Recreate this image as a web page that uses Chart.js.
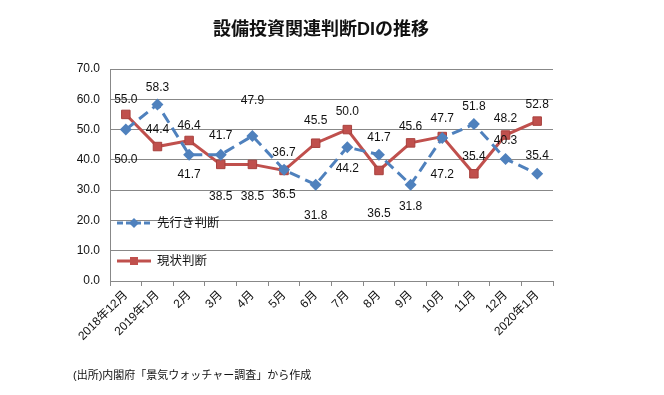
<!DOCTYPE html>
<html lang="ja">
<head>
<meta charset="UTF-8">
<title>設備投資関連判断DIの推移</title>
<script src="https://cdn.jsdelivr.net/npm/chart.js"></script>
<style>
  body { margin: 0; background: #fff; }
  #wrap { width: 664px; height: 395px; position: relative; }
</style>
</head>
<body>
<div id="wrap"><canvas id="c"></canvas></div>
<script>
const months = ['2018年12月', '2019年1月', '2月', '3月', '4月', '5月', '6月', '7月', '8月', '9月', '10月', '11月', '12月', '2020年1月'];
const outlook = [50.0, 58.3, 41.7, 41.7, 47.9, 36.7, 31.8, 44.2, 41.7, 31.8, 47.2, 51.8, 40.3, 35.4];
const current = [55.0, 44.4, 46.4, 38.5, 38.5, 36.5, 45.5, 50.0, 36.5, 45.6, 47.7, 35.4, 48.2, 52.8];
const yTicks = [0, 10, 20, 30, 40, 50, 60, 70];

// vertical label offsets in px (negative = above the point)
const outlookLabelDy = [30, -17, 20, -19, -35, -17, 31, 22, -17, 22, 37, -17, -18, -18];
const currentLabelDy = [-15, -17, -15, 32, 32, 24, -23, -18, 43, -16, -18, -17, -16, -16];

const FONT = '"Liberation Sans", "Noto Sans CJK JP", sans-serif';
const BLUE = '#4F81BD';
const RED = '#C0504D';

const extras = {
  id: 'extras',
  afterDatasetsDraw(chart) {
    const ctx = chart.ctx;
    ctx.save();
    // data labels
    ctx.font = '12px ' + FONT;
    ctx.fillStyle = '#111';
    ctx.textAlign = 'center';
    ctx.textBaseline = 'middle';
    [[0, outlookLabelDy], [1, currentLabelDy]].forEach(([di, dy]) => {
      const meta = chart.getDatasetMeta(di);
      meta.data.forEach((pt, i) => {
        const v = chart.data.datasets[di].data[i];
        ctx.fillText(v.toFixed(1), pt.x, pt.y + dy[i]);
      });
    });

    // legend inside plot
    const items = [
      { text: '先行き判断', color: BLUE, y: 223, dash: [6, 3], shape: 'diamond' },
      { text: '現状判断', color: RED, y: 261, dash: [], shape: 'square' }
    ];
    items.forEach(it => {
      ctx.strokeStyle = it.color;
      ctx.lineWidth = 3;
      ctx.setLineDash(it.dash);
      ctx.beginPath();
      ctx.moveTo(117, it.y);
      ctx.lineTo(151, it.y);
      ctx.stroke();
      ctx.setLineDash([]);
      ctx.fillStyle = it.color;
      if (it.shape === 'diamond') {
        ctx.beginPath();
        ctx.moveTo(134, it.y - 5);
        ctx.lineTo(139, it.y);
        ctx.lineTo(134, it.y + 5);
        ctx.lineTo(129, it.y);
        ctx.closePath();
        ctx.fill();
      } else {
        ctx.fillRect(130, it.y - 4, 8, 8);
      }
      ctx.fillStyle = '#111';
      ctx.textAlign = 'left';
      ctx.font = '12.5px ' + FONT;
      ctx.fillText(it.text, 157, it.y + 1);
    });

    // title and source
    ctx.textAlign = 'center';
    ctx.font = 'bold 18px ' + FONT;
    ctx.fillStyle = '#111';
    ctx.fillText('設備投資関連判断DIの推移', 321, 30);
    ctx.textAlign = 'left';
    ctx.font = '11px ' + FONT;
    ctx.fillText('(出所)内閣府「景気ウォッチャー調査」から作成', 73, 376);
    ctx.restore();
  }
};

new Chart(document.getElementById('c'), {
  type: 'line',
  data: {
    labels: months,
    datasets: [
      {
        label: '先行き判断',
        data: outlook,
        borderColor: BLUE,
        backgroundColor: BLUE,
        borderWidth: 3,
        borderDash: [11, 6],
        pointStyle: 'rectRot',
        pointRadius: 6,
        pointBorderWidth: 0,
        tension: 0
      },
      {
        label: '現状判断',
        data: current,
        borderColor: RED,
        backgroundColor: RED,
        borderWidth: 3,
        pointStyle: 'rect',
        pointRadius: 6,
        pointBorderColor: '#A8403D',
        pointBorderWidth: 1,
        tension: 0
      }
    ]
  },
  options: {
    responsive: true,
    maintainAspectRatio: false,
    animation: false,
    layout: { padding: { left: 58, right: 111, top: 69, bottom: 34 } },
    plugins: {
      legend: { display: false },
      tooltip: { enabled: false }
    },
    scales: {
      x: {
        offset: true,
        afterFit: s => { s.height = 80; },
        grid: { drawOnChartArea: false, drawTicks: true, tickLength: 5, offset: true, color: '#888' },
        border: { color: '#888' },
        ticks: {
          minRotation: 45, maxRotation: 45, autoSkip: false,
          color: '#111', font: { size: 12, family: FONT }, padding: 2
        }
      },
      y: {
        min: 0, max: 70,
        afterFit: s => { s.width = 52; },
        afterBuildTicks: s => { s.ticks = yTicks.map(v => ({ value: v })); },
        grid: { color: '#888', drawTicks: false },
        border: { color: '#888' },
        ticks: {
          color: '#111', font: { size: 12, family: FONT }, padding: 10,
          callback: v => v.toFixed(1)
        }
      }
    }
  },
  plugins: [extras]
});
</script>
</body>
</html>
